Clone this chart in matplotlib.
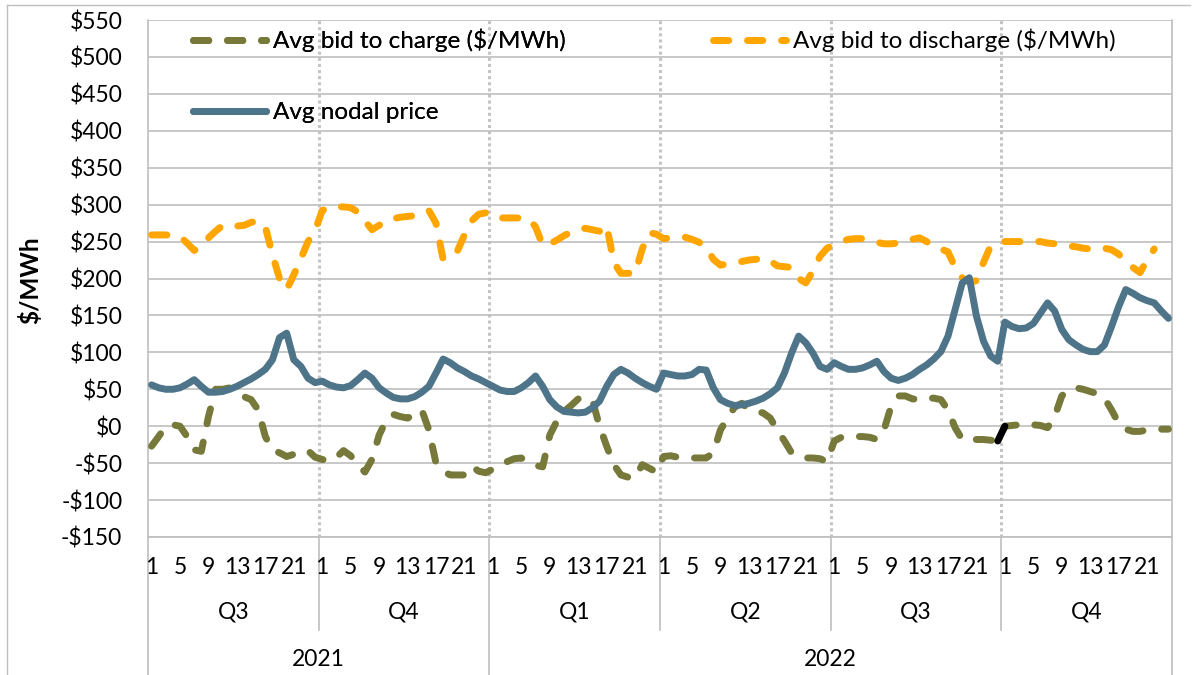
import numpy as np
import matplotlib
matplotlib.use("Agg")
import matplotlib.pyplot as plt
from matplotlib.lines import Line2D
from matplotlib.transforms import blended_transform_factory

plt.rcParams['font.family'] = ['Lato', 'DejaVu Sans']

# ---------------- data ----------------
years = ["2021", "2022"]
quarters = ["Q3", "Q4", "Q1", "Q2", "Q3", "Q4"]
hours = list(range(1, 25))
hour_labels = [1, 5, 9, 13, 17, 21]

charge = [
    -27, -14, 0, 2, 0, -14, -32, -34, 13, 50, 50, 52, 47, 40, 36, 22, -14, -32, -36, -41, -38, -36, -33, -42,
    -45, -47, -42, -33, -40, -52, -62, -45, -12, 8, 16, 13, 11, 16, 22, -5, -50, -61, -66, -66, -66, -54, -61, -63,
    -58, -52, -48, -44, -43, -50, -53, -55, -12, 7, 20, 28, 37, 38, 35, 0, -27, -52, -66, -69, -70, -52, -57, -62,
    -41, -40, -42, -43, -43, -43, -43, -36, -5, 11, 26, 31, 23, 20, 18, 11, -5, -20, -36, -41, -43, -43, -44, -48,
    -20, -15, -14, -14, -14, -15, -18, -5, 27, 41, 41, 37, 36, 38, 38, 36, 22, -2, -18, -18, -18, -18, -19, -20,
    0, 1, 2, 1, 2, 1, -2, 13, 41, 50, 52, 50, 47, 44, 38, 22, 4, -4, -7, -7, -5, -4, -4, -4,
]

discharge = [
    259, 259, 259, 258, 257, 248, 238, 243, 255, 264, 272, 272, 271, 272, 276, 278, 270, 232, 200, 185, 205, 227, 250, 265,
    292, 297, 297, 297, 296, 290, 278, 266, 272, 279, 281, 283, 284, 285, 288, 292, 275, 226, 232, 237, 259, 278, 287, 289,
    282, 282, 282, 282, 282, 281, 270, 245, 247, 252, 258, 263, 266, 268, 266, 264, 272, 222, 207, 207, 207, 240, 262, 260,
    254, 255, 256, 256, 253, 249, 242, 226, 218, 220, 222, 223, 225, 226, 228, 224, 217, 216, 215, 200, 194, 210, 230, 241,
    246, 250, 253, 254, 254, 251, 249, 247, 247, 248, 250, 253, 255, 250, 243, 240, 236, 215, 201, 195, 197, 222, 244, 248,
    250, 250, 250, 250, 250, 250, 248, 247, 246, 244, 243, 241, 240, 240, 241, 239, 233, 222, 215, 208, 225, 240, np.nan, np.nan,
]

nodal = [
    56, 52, 50, 50, 52, 57, 63, 54, 46, 46, 47, 50, 54, 59, 64, 70, 77, 90, 120, 126, 90, 81, 65, 59,
    61, 56, 53, 52, 55, 63, 72, 65, 52, 45, 39, 37, 37, 40, 46, 54, 72, 91, 86, 79, 74, 68, 64, 59,
    54, 49, 47, 47, 52, 59, 68, 54, 36, 26, 20, 19, 18, 19, 25, 34, 54, 70, 77, 72, 65, 59, 54, 50,
    72, 70, 68, 68, 70, 77, 76, 52, 36, 31, 28, 29, 31, 34, 38, 44, 52, 72, 99, 122, 113, 99, 81, 77,
    86, 81, 77, 77, 79, 83, 88, 74, 65, 62, 65, 70, 77, 83, 91, 101, 122, 158, 194, 201, 149, 115, 95, 88,
    141, 135, 132, 133, 139, 153, 167, 156, 131, 117, 110, 104, 101, 101, 110, 135, 162, 185, 180, 174, 170, 167, 156, 146,
]

labels = ["Avg bid to charge ($/MWh)", "Avg bid to discharge ($/MWh)", "Avg nodal price"]

# ---------------- style ----------------
C_CHARGE = "#77793A"
C_DIS = "#FFA500"
C_NODAL = "#4E7489"
GRID = "#BFBFBF"
FS = 16.5
FS_LEG = 17.5

W, H = 1199, 675
fig = plt.figure(figsize=(W / 100, H / 100), dpi=100)
L, R, T, B = 148, 1172, 20, 537
ax = fig.add_axes([L / W, 1 - B / H, (R - L) / W, (B - T) / H])

n = len(nodal)
x = np.arange(n)
lw = 5.0
dash = (2.2, 2.7)

ax.plot(x, charge, color=C_CHARGE, lw=lw, linestyle=(0, dash), dash_capstyle='round',
        solid_joinstyle='round', zorder=3)
ax.plot(x, discharge, color=C_DIS, lw=lw, linestyle=(0, dash), dash_capstyle='round',
        solid_joinstyle='round', zorder=3)
ax.plot(x, nodal, color=C_NODAL, lw=lw, solid_capstyle='round', solid_joinstyle='round', zorder=4)
# highlighted segment of the charge series (Q3 -> Q4 2022)
ax.plot(x[119:121], charge[119:121], color="black", lw=lw, solid_capstyle='round', zorder=5)

ax.set_xlim(-0.5, n - 0.5)
ax.set_ylim(-150, 550)
ax.set_yticks(np.arange(-150, 551, 50))
ax.yaxis.set_major_formatter(plt.FuncFormatter(
    lambda v, p: f"${v:.0f}" if v >= 0 else f"-${-v:.0f}"))
ax.tick_params(axis='y', length=0, pad=18.5, labelsize=FS)
ax.set_xticks([])
ax.grid(axis='y', color=GRID, lw=1.2, zorder=0)
ax.spines['top'].set_visible(False)
for s in ['left', 'right', 'bottom']:
    ax.spines[s].set_color(GRID)
    ax.spines[s].set_linewidth(1.2)

# dotted quarter separators inside plot
for q in range(1, 6):
    ax.axvline(q * 24 - 0.5, color="#C4C4C4", lw=2.2, linestyle=(0, (1, 1)), zorder=1)

# category axis labels
trans = blended_transform_factory(ax.transData, ax.transAxes)
ph = B - T
for q in range(6):
    for h in hour_labels:
        ax.text(q * 24 + h - 1, -30 / ph, str(h), transform=trans, ha='center', va='center',
                fontsize=FS, clip_on=False)
    ax.text(q * 24 + 11.5, -75 / ph, quarters[q], transform=trans, ha='center', va='center',
            fontsize=FS, clip_on=False)
for i, yr in enumerate(years):
    cx = 23.5 if i == 0 else 95.5
    ax.text(cx, -123 / ph, yr, transform=trans, ha='center', va='center', fontsize=FS, clip_on=False)

# separator lines below the axis
bottom_full = -(H - B) / ph
for q in range(1, 6):
    xx = q * 24 - 0.5
    y0 = bottom_full if q == 2 else -93 / ph
    ax.add_line(Line2D([xx, xx], [0, y0], transform=trans, color=GRID, lw=1.2, clip_on=False))
for xx in (-0.5, n - 0.5):
    ax.add_line(Line2D([xx, xx], [0, bottom_full], transform=trans, color=GRID, lw=1.2, clip_on=False))

# outer chart frame (top and left)
fig.add_artist(Line2D([7 / W, 1190 / W], [1 - 5 / H, 1 - 5 / H], color=GRID, lw=1.0))
fig.add_artist(Line2D([7 / W, 7 / W], [1 - 5 / H, 0], color=GRID, lw=1.0))

fig.text(30 / W, 1 - 280 / H, "$/MWh", rotation=90, ha='center', va='center',
         fontsize=FS + 1, fontweight='bold')

# legends
h_charge = Line2D([], [], color=C_CHARGE, lw=lw, linestyle=(0, dash), dash_capstyle='round')
h_dis = Line2D([], [], color=C_DIS, lw=lw, linestyle=(0, dash), dash_capstyle='round')
h_nodal = Line2D([], [], color=C_NODAL, lw=lw, solid_capstyle='round')
leg1 = fig.legend([h_charge, h_nodal], [labels[0], labels[2]], loc='upper left',
                  bbox_to_anchor=(193 / W, 1 - 29 / H), frameon=False, fontsize=FS_LEG,
                  handlelength=3.0, handletextpad=0.3, labelspacing=2.05, borderpad=0,
                  borderaxespad=0)
fig.add_artist(leg1)
fig.legend([h_dis], [labels[1]], loc='upper left',
           bbox_to_anchor=(713 / W, 1 - 29 / H), frameon=False, fontsize=FS_LEG,
           handlelength=3.0, handletextpad=0.3, borderpad=0, borderaxespad=0)

fig.savefig("out.png", dpi=100)
